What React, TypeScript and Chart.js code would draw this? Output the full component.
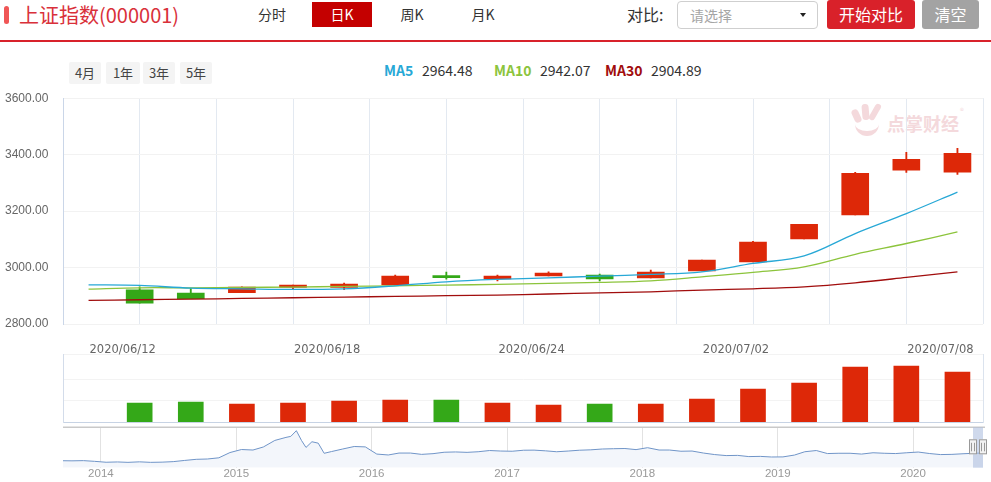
import React, { useEffect, useRef } from "react";
import { Chart, registerables } from "chart.js";
Chart.register(...registerables);

// ---------------- data ----------------
const dates = ["2020/06/11", "2020/06/12", "2020/06/15", "2020/06/16", "2020/06/17", "2020/06/18", "2020/06/19", "2020/06/22", "2020/06/23", "2020/06/24", "2020/06/29", "2020/06/30", "2020/07/01", "2020/07/02", "2020/07/03", "2020/07/06", "2020/07/07", "2020/07/08"];
const openP = [null, 2921.2, 2909.6, 2910.6, 2929.7, 2929.7, 2938.9, 2965.0, 2960.1, 2970.7, 2973.2, 2963.6, 2988.4, 3020.2, 3101.5, 3186.3, 3345.3, 3338.2];
const closeP = [null, 2874.2, 2889.4, 2930.8, 2937.8, 2941.4, 2969.6, 2964.4, 2969.6, 2980.2, 2960.1, 2983.8, 3026.2, 3089.8, 3153.4, 3333.6, 3383.1, 3404.3];
const highP = [null, 2931.8, 2926.2, 2931.5, 2937.8, 2944.9, 2973.2, 2983.8, 2973.2, 2984.8, 2976.7, 2990.8, 3026.2, 3093.3, 3153.4, 3337.2, 3407.9, 3422.0];
const lowP = [null, 2874.2, 2889.4, 2910.6, 2921.2, 2921.2, 2938.9, 2959.0, 2953.0, 2970.7, 2953.0, 2963.6, 2988.4, 3020.2, 3101.5, 3186.3, 3337.2, 3330.1];
const ma5 = [2938.9, 2936.8, 2927.2, 2924.8, 2922.6, 2924.8, 2935.4, 2949.5, 2958.0, 2963.6, 2969.6, 2975.6, 2984.8, 3014.5, 3041.4, 3120.5, 3191.2, 3267.5];
const ma10 = [2923.7, 2928.3, 2928.3, 2929.7, 2930.8, 2933.2, 2935.4, 2937.8, 2940.3, 2943.8, 2947.4, 2953.0, 2967.2, 2982.7, 3002.5, 3047.0, 3085.2, 3126.2];
const ma30 = [2883.8, 2885.9, 2888.0, 2890.5, 2893.0, 2895.4, 2897.8, 2900.2, 2902.5, 2906.3, 2910.2, 2914.1, 2920.2, 2924.8, 2931.8, 2946.0, 2965.0, 2984.8];
const volumes = [null, 1795, 1888, 1702, 1795, 1981, 2074, 2074, 1795, 1609, 1702, 1702, 2167, 3098, 3656, 5144, 5237, 4679];
const volTicks = [0, 2000, 4000, 6350];
const priceTicks = [2800, 3000, 3200, 3400, 3600];
const gridCols = [0, 1, 2, 3, 4, 5, 6, 7, 8, 9, 10, 11, 12];

const legendItems = ["MA5", "MA10", "MA30"];
const legendValues = ["2964.48", "2942.07", "2904.89"];
const rangeButtons = ["4月", "1年", "3年", "5年"];
const navYears = [2014, 2015, 2016, 2017, 2018, 2019, 2020];

const navDates = ["2013-09-20", "2013-10", "2013-11", "2013-12", "2014-01", "2014-02", "2014-03", "2014-04", "2014-05", "2014-06", "2014-07", "2014-08", "2014-09", "2014-10", "2014-11", "2014-12", "2015-01", "2015-02", "2015-03", "2015-04", "2015-05", "2015-05-28", "2015-06-12", "2015-06-26", "2015-07-08", "2015-07-24", "2015-08-10", "2015-08-26", "2015-09", "2015-10", "2015-11", "2015-12", "2016-01", "2016-02", "2016-03", "2016-04", "2016-05", "2016-06", "2016-07", "2016-08", "2016-09", "2016-10", "2016-11", "2016-12", "2017-01", "2017-02", "2017-03", "2017-04", "2017-05", "2017-06", "2017-07", "2017-08", "2017-09", "2017-10", "2017-11", "2017-12", "2018-01", "2018-02", "2018-03", "2018-04", "2018-05", "2018-06", "2018-07", "2018-08", "2018-09", "2018-10", "2018-11", "2018-12", "2019-01", "2019-02", "2019-03", "2019-04", "2019-05", "2019-06", "2019-07", "2019-08", "2019-09", "2019-10", "2019-11", "2019-12", "2020-01", "2020-02", "2020-03", "2020-04", "2020-05", "2020-06", "2020-07-08"];
const navValues = [2190, 2180, 2200, 2130, 2040, 2070, 2030, 2080, 2030, 2050, 2100, 2220, 2330, 2360, 2480, 3000, 3300, 3250, 3550, 4200, 4500, 4600, 5166, 4190, 3507, 4070, 3930, 2927, 3100, 3350, 3600, 3560, 2850, 2760, 2950, 2950, 2820, 2890, 3030, 3060, 3020, 3080, 3200, 3150, 3130, 3230, 3240, 3170, 3080, 3150, 3230, 3270, 3350, 3380, 3400, 3290, 3480, 3250, 3250, 3130, 3150, 2950, 2800, 2700, 2720, 2600, 2620, 2560, 2570, 2750, 3080, 3200, 2900, 2930, 2930, 2850, 2980, 2930, 2900, 2980, 3050, 2900, 2800, 2820, 2880, 2930, 2950];

// ---------------- styles ----------------
const RED = "#dd2808";
const GREEN = "#34a818";
const MA_COLORS = ["#27a8d6", "#8cc43c", "#a10d0d"];
const FONT_UI = '"Noto Sans CJK SC", "Noto Sans", sans-serif';
const FONT_AX = '"Liberation Sans", Arial, sans-serif';
const FONT_DATE = '"DejaVu Sans", sans-serif';

function decYear(s: string): number {
  const p = s.split(/[-\/]/).map(Number);
  const y = p[0], m = p[1], d = p[2] ?? 15;
  const a = Date.UTC(y, 0, 1), b = Date.UTC(y + 1, 0, 1);
  return y + (Date.UTC(y, m - 1, d) - a) / (b - a);
}

const candleColors = dates.map((_, i) =>
  openP[i] == null ? "transparent" : (closeP[i] as number) >= (openP[i] as number) ? RED : GREEN
);

function MainChart() {
  const ref = useRef<HTMLCanvasElement>(null);
  useEffect(() => {
    const chart = new Chart(ref.current as HTMLCanvasElement, {
      type: "bar",
      data: {
        labels: dates,
        datasets: [
          ...[ma5, ma10, ma30].map((d, k) => ({
            type: "line" as const,
            label: legendItems[k],
            data: d,
            borderColor: MA_COLORS[k],
            borderWidth: 1.3,
            pointRadius: 0,
            tension: 0.35,
            order: 0,
          })),
          {
            type: "bar" as const,
            label: "body",
            data: dates.map((_, i) => (openP[i] == null ? null : [openP[i], closeP[i]])) as any,
            backgroundColor: candleColors,
            barThickness: 27,
            grouped: false,
            minBarLength: 2,
            order: 1,
          },
          {
            type: "bar" as const,
            label: "wick",
            data: dates.map((_, i) => (openP[i] == null ? null : [lowP[i], highP[i]])) as any,
            backgroundColor: candleColors,
            barThickness: 1.2,
            grouped: false,
            order: 2,
          },
        ],
      },
      options: {
        responsive: false,
        animation: false,
        events: [],
        layout: { padding: { left: 5, right: 8, top: 9.5, bottom: 1 } },
        plugins: { legend: { display: false }, tooltip: { enabled: false } },
        scales: {
          x: {
            type: "category",
            position: "bottom",
            offset: true,
            grid: { display: false, drawTicks: false },
            border: { display: false },
            ticks: {
              autoSkip: false,
              maxRotation: 0,
              labelOffset: -17,
              padding: 19.1,
              color: "#666",
              font: { size: 11.5, family: FONT_DATE, lineHeight: 1.2 },
              callback: (_v: any, i: number) => (i % 4 === 1 ? dates[i] : ""),
            },
            afterFit: (s: any) => {
              s.height = 33;
              s.paddingLeft = 0;
              s.paddingRight = 0;
            },
          },
          xg: {
            type: "linear",
            position: "bottom",
            offset: false,
            min: 0,
            max: 12,
            afterBuildTicks: (s: any) => {
              s.ticks = gridCols.map((v) => ({ value: v }));
            },
            ticks: { display: false },
            grid: { color: "#e3e9f1", drawTicks: false, offset: false },
            border: { display: false },
            afterFit: (s: any) => {
              s.height = 0;
              s.paddingLeft = 0;
              s.paddingRight = 0;
            },
          },
          y: {
            position: "left",
            min: 2800,
            max: 3600,
            afterBuildTicks: (s: any) => {
              s.ticks = priceTicks.map((v) => ({ value: v }));
            },
            ticks: {
              crossAlign: "far",
              color: "#666",
              font: { size: 12, family: FONT_AX },
              callback: (v: any) => Number(v).toFixed(2),
            },
            grid: { color: "#f2f2f2", drawTicks: false },
            border: { display: true, color: "#cad6e8" },
            afterFit: (s: any) => {
              s.width = 58;
            },
          },
        },
      } as any,
    });
    return () => chart.destroy();
  }, []);
  return <canvas ref={ref} width={991} height={270} style={{ position: "absolute", left: 0, top: 88, width: 991, height: 270 }} />;
}

function VolumeChart() {
  const ref = useRef<HTMLCanvasElement>(null);
  useEffect(() => {
    const chart = new Chart(ref.current as HTMLCanvasElement, {
      type: "bar",
      data: {
        labels: dates,
        datasets: [{ data: volumes as any, backgroundColor: candleColors, barThickness: 25 }],
      },
      options: {
        responsive: false,
        animation: false,
        events: [],
        layout: { padding: { left: 0, right: 0, top: 20, bottom: 0.7 } },
        plugins: { legend: { display: false }, tooltip: { enabled: false } },
        scales: {
          x: { type: "category", offset: true, display: false },
          y: {
            position: "left",
            min: 0,
            max: volTicks[volTicks.length - 1],
            afterBuildTicks: (s: any) => {
              s.ticks = volTicks.map((v) => ({ value: v }));
            },
            ticks: { display: false },
            grid: {
              drawTicks: false,
              color: (c: any) => (c.tick && c.tick.value === 0 ? "#c7d3e4" : "#f3f3f3"),
              lineWidth: (c: any) => (c.tick && c.tick.value === 0 ? 1.5 : 1),
            },
            border: { display: true, color: "#d3dcea" },
            afterFit: (s: any) => {
              s.width = 63;
            },
          },
          yr: {
            type: "linear",
            position: "right",
            ticks: { display: false },
            grid: { display: false, drawTicks: false },
            border: { display: true, color: "#dbe3ee" },
            afterFit: (s: any) => {
              s.width = 8;
            },
          },
        },
      } as any,
    });
    return () => chart.destroy();
  }, []);
  return <canvas ref={ref} width={991} height={89} style={{ position: "absolute", left: 0, top: 334, width: 991, height: 89 }} />;
}

function NavChart() {
  const ref = useRef<HTMLCanvasElement>(null);
  useEffect(() => {
    const selStart = decYear(dates[0]);
    const selEnd = decYear(dates[dates.length - 1]);
    const deco = {
      id: "navDeco",
      afterDatasetsDraw(chart: any) {
        const { ctx, chartArea: a, scales } = chart;
        const x = scales.x;
        ctx.save();
        ctx.strokeStyle = "#c9c9c9";
        ctx.lineWidth = 1.5;
        ctx.beginPath();
        ctx.moveTo(a.left, a.top);
        ctx.lineTo(a.right + 2, a.top);
        ctx.stroke();
        const xs = x.getPixelForValue(selStart);
        const xe = x.getPixelForValue(selEnd);
        ctx.fillStyle = "rgba(168,186,220,0.55)";
        ctx.fillRect(xs, a.top, xe - xs, a.bottom - a.top);
        const handle = (cx: number) => {
          ctx.fillStyle = "#f2f2f2";
          ctx.strokeStyle = "#999";
          ctx.lineWidth = 1;
          ctx.fillRect(cx - 4, a.top + 12, 8, 15);
          ctx.strokeRect(Math.round(cx - 4) + 0.5, a.top + 12.5, 7, 14);
          ctx.beginPath();
          ctx.moveTo(Math.round(cx) - 1.5, a.top + 15.5);
          ctx.lineTo(Math.round(cx) - 1.5, a.top + 24);
          ctx.moveTo(Math.round(cx) + 1.5, a.top + 15.5);
          ctx.lineTo(Math.round(cx) + 1.5, a.top + 24);
          ctx.stroke();
        };
        handle(xs);
        handle(xe);
        ctx.restore();
      },
    };
    const chart = new Chart(ref.current as HTMLCanvasElement, {
      type: "line",
      data: {
        datasets: [
          {
            data: navDates.map((d, i) => ({ x: decYear(d), y: navValues[i] })),
            borderColor: "#7095c8",
            borderWidth: 1,
            backgroundColor: "#f3f6fb",
            fill: "start",
            pointRadius: 0,
            tension: 0,
          },
        ],
      },
      options: {
        responsive: false,
        animation: false,
        events: [],
        layout: { padding: { left: 63, right: 8, top: 3.3, bottom: 4.5 } },
        plugins: { legend: { display: false }, tooltip: { enabled: false } },
        scales: {
          x: {
            type: "linear",
            min: 2013.72,
            max: selEnd,
            afterBuildTicks: (s: any) => {
              s.ticks = navYears.map((v) => ({ value: v }));
            },
            ticks: {
              padding: -1,
              color: "#999",
              font: { size: 11.5, family: FONT_AX },
              callback: (v: any) => String(v),
            },
            grid: { color: "#e2e2e2", drawTicks: false },
            border: { display: false },
          },
          y: { type: "linear", min: 1500, max: 5500, display: false },
        },
      } as any,
      plugins: [deco],
    });
    return () => chart.destroy();
  }, []);
  return <canvas ref={ref} width={991} height={60} style={{ position: "absolute", left: 0, top: 424, width: 991, height: 60 }} />;
}

const abs = (l: number, t: number, w?: number, h?: number, extra: any = {}) => ({
  position: "absolute" as const,
  left: l,
  top: t,
  width: w,
  height: h,
  ...extra,
});

function TopBar() {
  const tab = (label: string, left: number, width: number, active = false) => (
    <div
      key={label}
      style={abs(left, 2, width, 25, {
        background: active ? "#c40000" : "transparent",
        color: active ? "#fff" : "#333",
        fontSize: 14,
        lineHeight: "25px",
        textAlign: "center",
      })}
    >
      {label}
    </div>
  );
  return (
    <>
      <div style={abs(4, 6, 5, 18, { background: "#f05656", borderRadius: 3 })} />
      <div style={abs(19, 0, 200, 30, { color: "#d9303a", fontSize: 20, lineHeight: "30px", whiteSpace: "nowrap" })}>上证指数(000001)</div>
      {tab("分时", 250, 44)}
      {tab("日K", 312, 60, true)}
      {tab("周K", 390, 44)}
      {tab("月K", 461, 44)}
      <div style={abs(627, 0, 50, 29, { fontSize: 16, lineHeight: "29px", color: "#333" })}>对比:</div>
      <div style={abs(677, 1, 141, 28, { border: "1px solid #cfcfcf", borderRadius: 4, boxSizing: "border-box" })}>
        <div style={abs(12, 0, 80, 26, { fontSize: 14, lineHeight: "26px", color: "#a5a5a5" })}>请选择</div>
        <div style={abs(122, 11, 0, 0, { borderLeft: "3.5px solid transparent", borderRight: "3.5px solid transparent", borderTop: "4px solid #222" })} />
      </div>
      <div style={abs(827, 0, 88, 29, { background: "#d9212a", borderRadius: 3, color: "#fff", fontSize: 16, lineHeight: "29px", textAlign: "center" })}>开始对比</div>
      <div style={abs(922, 0, 57, 29, { background: "#a3a3a3", borderRadius: 3, color: "#fff", fontSize: 16, lineHeight: "29px", textAlign: "center" })}>清空</div>
      <div style={abs(0, 40, 991, 2, { background: "#d8222b" })} />
    </>
  );
}

function RangeAndLegend() {
  const lefts = [69, 106, 143, 180];
  const widths = [32, 34, 32, 32];
  const legLefts = [384, 494, 605];
  const valLefts = [422, 540, 651];
  return (
    <>
      {rangeButtons.map((b, i) => (
        <div key={b} style={abs(lefts[i], 62, widths[i], 22, { background: "#f4f4f4", borderRadius: 2, fontSize: 13, lineHeight: "22px", textAlign: "center", color: "#444" })}>
          {b}
        </div>
      ))}
      {legendItems.map((m, i) => (
        <React.Fragment key={m}>
          <div style={abs(legLefts[i], 60, undefined, 20, { fontSize: 14, fontWeight: 700, lineHeight: "20px", color: MA_COLORS[i] })}>{m}</div>
          <div style={abs(valLefts[i], 60, undefined, 20, { fontSize: 14, lineHeight: "20px", color: "#333" })}>{legendValues[i]}</div>
        </React.Fragment>
      ))}
    </>
  );
}

function Watermark() {
  const c = "#f4d9dc";
  return (
    <>
      <div style={abs(853, 109, 7, 14, { background: c, borderRadius: 4, transform: "rotate(-25deg)" })} />
      <div style={abs(862, 104, 7, 16, { background: c, borderRadius: 4, transform: "rotate(-5deg)" })} />
      <div style={abs(872, 103, 6, 18, { background: c, borderRadius: 4, transform: "rotate(30deg)" })} />
      <div style={abs(855, 118, 24, 18, { borderBottom: `5px solid ${c}`, borderRadius: "0 0 14px 14px", boxSizing: "border-box" })} />
      <div style={abs(887, 112, 80, 22, { color: c, fontSize: 18, fontWeight: 700, lineHeight: "22px", whiteSpace: "nowrap" })}>点掌财经</div>
      <div style={abs(960, 106, 10, 10, { color: c, fontSize: 8, lineHeight: "10px" })}>®</div>
    </>
  );
}

export default function App() {
  return (
    <div style={{ position: "absolute", left: 0, top: 0, width: 991, height: 482, overflow: "hidden", background: "#fff", fontFamily: FONT_UI }}>
      <TopBar />
      <RangeAndLegend />
      <Watermark />
      <VolumeChart />
      <MainChart />
      <NavChart />
    </div>
  );
}
